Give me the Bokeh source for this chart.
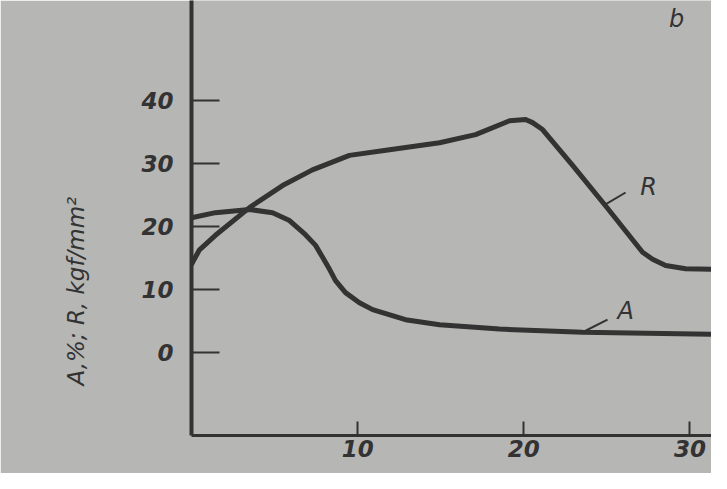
from bokeh.plotting import figure
from bokeh.models import Range1d, FixedTicker, Label, Title
from bokeh.embed import file_html
from bokeh.resources import INLINE

# Data
r_x = [0, 0.48, 1.44, 3.49, 5.48, 7.28, 9.51, 11.92, 14.93, 17.10, 19.15, 20.11, 20.53, 21.13, 22.94, 24.92, 27.15, 27.75, 28.54, 29.74, 31.3]
r_y = [14.0, 16.3, 18.6, 23.0, 26.5, 29.0, 31.3, 32.2, 33.3, 34.6, 36.8, 37.0, 36.5, 35.4, 29.7, 23.3, 15.9, 14.8, 13.8, 13.3, 13.2]

a_x = [0, 1.44, 3.49, 4.88, 5.90, 6.86, 7.47, 7.89, 8.31, 8.67, 9.27, 10.11, 10.90, 12.88, 14.93, 18.54, 23.54, 31.3]
a_y = [21.4, 22.2, 22.7, 22.2, 20.95, 18.7, 17.0, 15.1, 13.2, 11.4, 9.5, 7.9, 6.8, 5.2, 4.4, 3.7, 3.2, 2.9]

y_ticks = [0, 10, 20, 30, 40]
x_ticks = [10, 20, 30]

INK = "#333333"
BG = "#b6b6b4"

p = figure(width=711, height=473, output_backend="svg", toolbar_location=None,
           x_range=Range1d(0, 31.3), y_range=Range1d(-13.2, 55.9))
p.min_border = 0
p.min_border_left = 191
p.min_border_right = 0
p.min_border_top = 0
p.min_border_bottom = 38
p.background_fill_color = BG
p.border_fill_color = BG
p.outline_line_color = None
p.grid.visible = False

p.line(r_x, r_y, line_color=INK, line_width=5, line_join="round", line_cap="round")
p.line(a_x, a_y, line_color=INK, line_width=5, line_join="round", line_cap="round")

# leader lines for curve labels
p.line([24.92, 26.13], [23.5, 25.4], line_color=INK, line_width=2)
p.line([23.54, 25.04], [3.2, 5.2], line_color=INK, line_width=2)

for ax in (p.xaxis[0], p.yaxis[0]):
    ax.axis_line_color = INK
    ax.major_tick_line_color = INK
    ax.major_tick_line_width = 2
    ax.minor_tick_line_color = None
    ax.major_tick_out = 0
    ax.major_label_text_font = "DejaVu Sans"
    ax.major_label_text_font_style = "bold italic"
    ax.major_label_text_font_size = "23px"
    ax.major_label_text_color = INK

p.yaxis[0].ticker = FixedTicker(ticks=y_ticks)
p.yaxis[0].axis_line_width = 4
p.yaxis[0].major_tick_in = 28
p.yaxis[0].major_label_standoff = 18

p.xaxis[0].ticker = FixedTicker(ticks=x_ticks)
p.xaxis[0].axis_line_width = 3
p.xaxis[0].major_tick_in = 14
p.xaxis[0].major_label_standoff = 4

# y title, placed lower than the frame centre like the original
p.add_layout(Title(text="A,%; R, kgf/mm²", align="left", offset=50, standoff=100,
                   text_font="DejaVu Sans", text_font_style="italic",
                   text_font_size="23px", text_color=INK), "left")

lab_font = dict(text_font="DejaVu Sans", text_font_style="italic", text_color=INK,
                text_align="center", text_baseline="middle")

p.add_layout(Label(x=27.51, y=26.2, text="R", text_font_size="24px", **lab_font))
p.add_layout(Label(x=26.13, y=6.5, text="A", text_font_size="24px", **lab_font))
p.add_layout(Label(x=29.2, y=53.0, text="b", text_font_size="24px", **lab_font))

open("out.html", "w").write(file_html(p, INLINE))
